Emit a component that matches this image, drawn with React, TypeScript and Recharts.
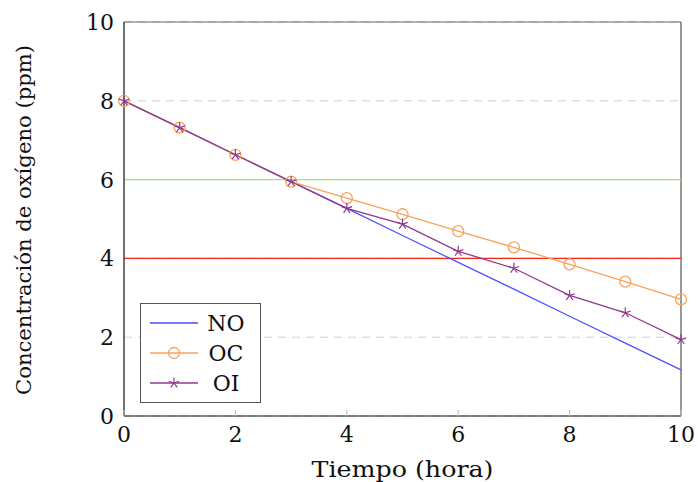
import React from "react";
import { ComposedChart, Line, XAxis, YAxis, CartesianGrid, ReferenceLine } from "recharts";

const hours = [0, 1, 2, 3, 4, 5, 6, 7, 8, 9, 10];
const noValues = [8, 7.32, 6.63, 5.95, 5.27, 4.58, 3.9, 3.22, 2.53, 1.85, 1.17];
const ocValues = [8, 7.32, 6.63, 5.95, 5.53, 5.12, 4.69, 4.28, 3.85, 3.41, 2.96];
const oiValues = [8, 7.32, 6.63, 5.95, 5.27, 4.87, 4.18, 3.75, 3.06, 2.62, 1.94];
const xTicks = [0, 2, 4, 6, 8, 10];
const yTicks = [0, 2, 4, 6, 8, 10];
const seriesNames = ["NO", "OC", "OI"];
const xTitle = "Tiempo (hora)";
const yTitle = "Concentración de oxígeno (ppm)";

const data = hours.map((h, i) => ({ h, NO: noValues[i], OC: ocValues[i], OI: oiValues[i] }));

const FONT = "'DejaVu Serif', 'Liberation Serif', serif";
const C_NO = "#4d4dff";
const C_OC = "#f7a35c";
const C_OI = "#8e3a8e";

const StarDot = (props: any) => {
  const { cx, cy } = props;
  if (cx == null || cy == null) return null;
  const r = 5.5;
  const segs = [];
  for (let k = 0; k < 5; k++) {
    const a = -Math.PI / 2 + (k * 2 * Math.PI) / 5;
    segs.push(
      <line key={k} x1={cx} y1={cy} x2={cx + r * Math.cos(a)} y2={cy + r * Math.sin(a)} stroke={C_OI} strokeWidth={1.2} />
    );
  }
  return <g>{segs}</g>;
};

const CircleDot = (props: any) => {
  const { cx, cy } = props;
  if (cx == null || cy == null) return null;
  return <circle cx={cx} cy={cy} r={5.5} fill="none" stroke={C_OC} strokeWidth={1.3} />;
};

const XTick = (props: any) => {
  const { x, y, payload } = props;
  return (
    <g>
      <line x1={x} y1={y} x2={x} y2={y - 6} stroke="#bbb" strokeWidth={1} />
      <text x={x} y={y + 26} textAnchor="middle" fontFamily={FONT} fontSize={22} fill="#111">
        {payload.value}
      </text>
    </g>
  );
};

const YTick = (props: any) => {
  const { x, y, payload } = props;
  return (
    <text x={x - 10} y={y + 8} textAnchor="end" fontFamily={FONT} fontSize={22} fill="#111">
      {payload.value}
    </text>
  );
};

const XLabel = (props: any) => {
  const vb = props.viewBox || {};
  const cx = vb.x + vb.width / 2;
  return (
    <text x={cx} y={477} textAnchor="middle" fontFamily={FONT} fontSize={22} fill="#111" textLength={182} lengthAdjust="spacingAndGlyphs">
      {xTitle}
    </text>
  );
};

const YLabel = (props: any) => {
  const vb = props.viewBox || {};
  const cy = vb.y + vb.height / 2 + 1;
  const cx = 31;
  return (
    <text
      x={cx}
      y={cy}
      transform={`rotate(-90, ${cx}, ${cy})`}
      textAnchor="middle"
      fontFamily={FONT}
      fontSize={21}
      fill="#111"
      textLength={350}
      lengthAdjust="spacingAndGlyphs"
    >
      {yTitle}
    </text>
  );
};

const LegendBox = () => {
  const rows = [
    { name: seriesNames[0], color: C_NO, marker: null },
    { name: seriesNames[1], color: C_OC, marker: "circle" },
    { name: seriesNames[2], color: C_OI, marker: "star" },
  ];
  return (
    <svg width={122} height={101} style={{ display: "block" }}>
      <rect x={0.5} y={0.5} width={120} height={99} fill="#fff" stroke="#555" strokeWidth={1} />
      {rows.map((r, i) => {
        const cy = 20 + i * 30;
        return (
          <g key={r.name}>
            <line x1={10} y1={cy} x2={58} y2={cy} stroke={r.color} strokeWidth={1.3} />
            {r.marker === "circle" && <CircleDot cx={34} cy={cy} />}
            {r.marker === "star" && <StarDot cx={34} cy={cy} />}
            <text x={86} y={cy + 8} textAnchor="middle" fontFamily={FONT} fontSize={22} fill="#111">
              {r.name}
            </text>
          </g>
        );
      })}
    </svg>
  );
};

export default function App() {
  return (
    <div style={{ position: "absolute", left: 0, top: 0, width: 698, height: 482, background: "#fff" }}>
      <ComposedChart width={698} height={482} data={data} margin={{ top: 22, right: 17, bottom: 36, left: 64 }}>
        <CartesianGrid horizontal={true} vertical={false} stroke="#cfcfcf" strokeDasharray="8 6" />
        <XAxis
          dataKey="h"
          type="number"
          domain={[0, 10]}
          ticks={xTicks}
          tickLine={false}
          tickSize={0}
          tickMargin={0}
          tick={<XTick />}
          axisLine={{ stroke: "#111", strokeWidth: 1.2 }}
          height={30}
          label={<XLabel />}
        />
        <YAxis
          type="number"
          domain={[0, 10]}
          ticks={yTicks}
          tickLine={false}
          tickSize={0}
          tickMargin={0}
          tick={<YTick />}
          axisLine={{ stroke: "#111", strokeWidth: 1.2 }}
          width={60}
          label={<YLabel />}
        />
        <ReferenceLine y={10} stroke="#666" strokeWidth={1.2} />
        <ReferenceLine x={10} stroke="#555" strokeWidth={1.2} />
        <ReferenceLine y={6} stroke="#8cf06a" strokeWidth={1.3} />
        <ReferenceLine y={4} stroke="#f02818" strokeWidth={1.2} />
        <Line dataKey="NO" stroke={C_NO} strokeWidth={1.2} dot={false} isAnimationActive={false} />
        <Line dataKey="OC" stroke={C_OC} strokeWidth={1.3} dot={<CircleDot />} isAnimationActive={false} />
        <Line dataKey="OI" stroke={C_OI} strokeWidth={1.3} dot={<StarDot />} isAnimationActive={false} />
      </ComposedChart>
      <div style={{ position: "absolute", left: 140, top: 303, width: 122, height: 101 }}>
        <LegendBox />
      </div>
    </div>
  );
}
